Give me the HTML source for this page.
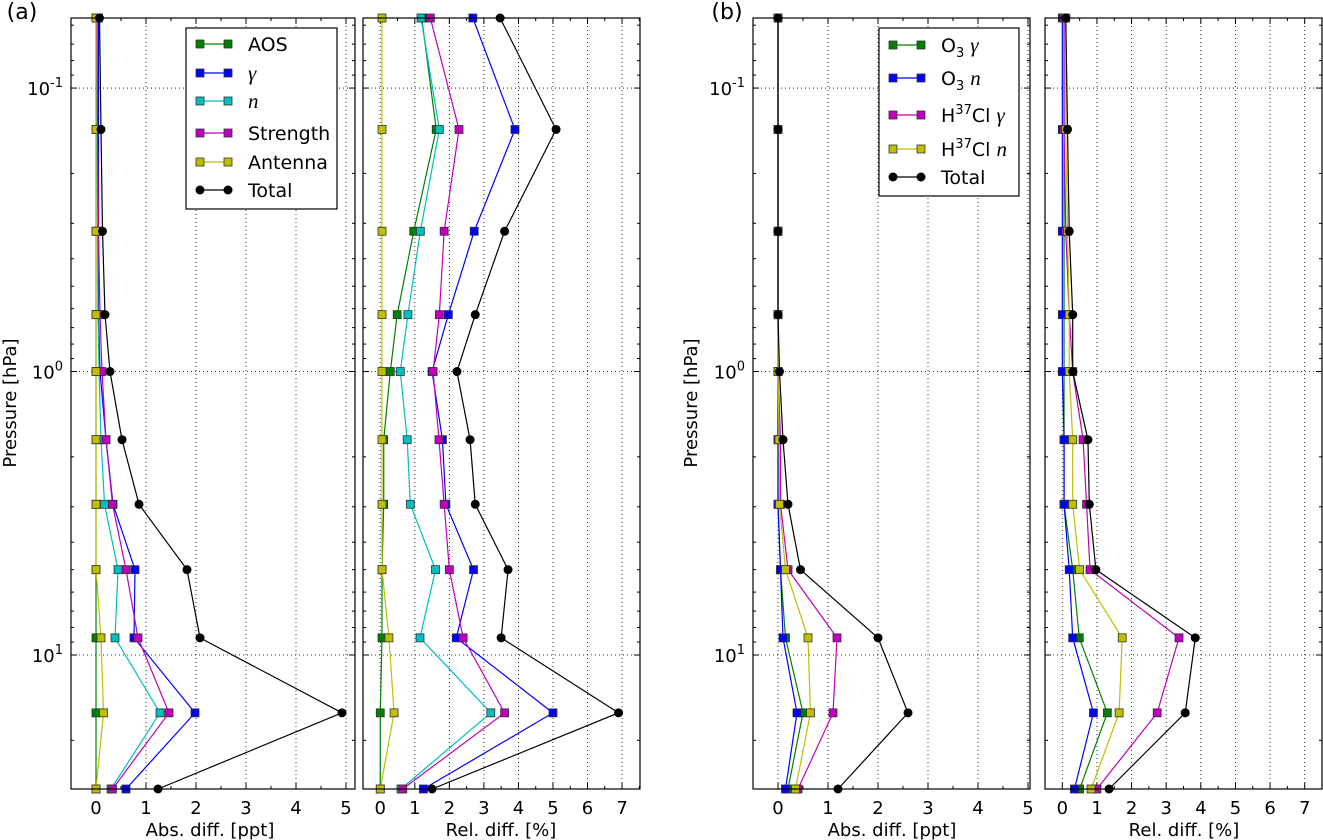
<!DOCTYPE html>
<html><head><meta charset="utf-8"><style>
body{margin:0;background:#fff;}
svg{display:block;font-family:"DejaVu Sans","Liberation Sans",sans-serif;}
</style></head><body>
<svg id="fig" width="1323" height="840" viewBox="0 0 1323 840" xmlns="http://www.w3.org/2000/svg"></svg>
<script>
const pressure=[0.0566,0.14,0.32,0.63,1.0,1.74,2.94,5.0,8.7,16,29.7];
// panel a abs
const aAbsAOS=[0,0,0,0,0,0,0,0,0,0,0];
const aAbsGamma=[0.05,0.05,0.05,0.05,0.08,0.2,0.34,0.78,0.76,1.98,0.6];
const aAbsN=[0.02,0.02,0.03,0.04,0.06,0.1,0.17,0.44,0.38,1.28,0.3];
const aAbsStr=[0.02,0.03,0.05,0.08,0.12,0.2,0.33,0.6,0.84,1.46,0.33];
const aAbsAnt=[0,0,0,0,0,0,0,0,0.1,0.15,0];
const aAbsTot=[0.07,0.1,0.13,0.18,0.28,0.52,0.86,1.82,2.08,4.92,1.24];
// panel a rel
const aRelAOS=[1.2,1.62,0.97,0.49,0.29,0.1,0.1,0.05,0.05,0,0];
const aRelGamma=[2.68,3.9,2.72,1.97,1.5,1.8,1.9,2.7,2.2,5.0,1.25];
const aRelN=[1.18,1.71,1.16,0.8,0.58,0.78,0.87,1.6,1.15,3.2,0.6];
const aRelStr=[1.45,2.28,1.85,1.71,1.53,1.7,1.85,2.0,2.4,3.6,0.65];
const aRelAnt=[0.05,0.05,0.05,0.05,0.05,0.05,0.05,0.05,0.25,0.4,0];
const aRelTot=[3.47,5.09,3.6,2.75,2.22,2.6,2.75,3.7,3.5,6.9,1.5];
// panel b abs
const bAbsO3g=[0,0,0,0,0,0,0,0.05,0.15,0.5,0.2];
const bAbsO3n=[0,0,0,0,0,0,0,0.05,0.1,0.38,0.15];
const bAbsHg=[0,0,0,0,0,0.05,0.05,0.2,1.18,1.1,0.4];
const bAbsHn=[0,0,0,0,0,0.02,0.03,0.15,0.6,0.65,0.35];
const bAbsTot=[0,0,0,0,0.03,0.1,0.2,0.45,2.0,2.6,1.2];
// panel b rel
const bRelO3g=[0.05,0.05,0.05,0.05,0.05,0.05,0.05,0.3,0.49,1.3,0.5];
const bRelO3n=[0,0,0,0,0,0.05,0.05,0.2,0.3,0.9,0.35];
const bRelHg=[0.05,0.05,0.1,0.2,0.3,0.6,0.7,0.8,3.37,2.74,1.0];
const bRelHn=[0.1,0.1,0.15,0.2,0.2,0.3,0.3,0.5,1.73,1.64,0.83];
const bRelTot=[0.1,0.15,0.2,0.3,0.3,0.74,0.78,0.97,3.84,3.55,1.35];

const NS="http://www.w3.org/2000/svg";
const fig=document.getElementById('fig');
function mk(tag,at,parent){const e=document.createElementNS(NS,tag);for(const k in at)e.setAttribute(k,at[k]);(parent||fig).appendChild(e);return e;}
const Y0=18,Y1=789;
const yLo=Math.log10(0.0566),yHi=Math.log10(29.7);
function ys(p){return Y0+(Math.log10(p)-yLo)/(yHi-yLo)*(Y1-Y0);}
const G='#008000',B='#0000ff',C='#00bfbf',M='#bf00bf',Yc='#bfbf00',K='#000';

function panel(name,x0,x1,xmin,xmax,nt,showY,series){
  const g=mk('g',{});
  
  
  const xs=v=>x0+(v-xmin)/(xmax-xmin)*(x1-x0);
  // grid
  for(let t=0;t<=nt;t++){const l=mk('line',{x1:xs(t),x2:xs(t),y1:Y0,y2:Y1,stroke:'#000','stroke-width':0.8,'stroke-dasharray':'1,3'},g);}
  [0.1,1,10].forEach(p=>mk('line',{x1:x0,x2:x1,y1:ys(p),y2:ys(p),stroke:'#000','stroke-width':0.8,'stroke-dasharray':'1,3'},g));
  // ticks
  for(let t=0;t<=nt;t++){const X=xs(t);mk('line',{x1:X,x2:X,y1:Y1,y2:Y1-6,stroke:'#000'},g);mk('line',{x1:X,x2:X,y1:Y0,y2:Y0+6,stroke:'#000'},g);
    const tx=mk('text',{x:X,y:Y1+25,'font-size':18,'text-anchor':'middle'},g);tx.textContent=t;}
  for(let t=-0.5;t<=xmax;t+=0.5){if(Math.abs(t-Math.round(t))<0.01)continue;const X=xs(t);if(X<x0+1)continue;mk('line',{x1:X,x2:X,y1:Y1,y2:Y1-3,stroke:'#000'},g);mk('line',{x1:X,x2:X,y1:Y0,y2:Y0+3,stroke:'#000'},g);}
  for(let d=-2;d<=1;d++)for(let m=1;m<10;m++){const p=m*Math.pow(10,d);if(p<0.0566||p>29.7)continue;const Yp=ys(p);const L=m==1?6:3;
    mk('line',{x1:x0,x2:x0+L,y1:Yp,y2:Yp,stroke:'#000'},g);mk('line',{x1:x1,x2:x1-L,y1:Yp,y2:Yp,stroke:'#000'},g);}
  if(showY){[[-1,0.1],[0,1],[1,10]].forEach(([e,p])=>{const t=mk('text',{x:x0-8,y:ys(p)+7,'font-size':18,'text-anchor':'end'},g);t.innerHTML='10<tspan dy="-8" font-size="13">'+e+'</tspan>';});}
  // series
  series.forEach(s=>{
    const sg=mk('g',{},g);
    
    
    const pts=s.v.map((v,i)=>xs(v)+','+ys(pressure[i])).join(' ');
    mk('polyline',{points:pts,fill:'none',stroke:s.c,'stroke-width':1.2},sg);
    s.v.forEach((v,i)=>{const X=xs(v),Yp=ys(pressure[i]);
      if(s.c===K)mk('circle',{cx:X,cy:Yp,r:4.5,fill:K},sg);
      else mk('rect',{x:X-4,y:Yp-4,width:8,height:8,fill:s.c,stroke:'#333','stroke-width':0.8},sg);});
  });
  mk('rect',{x:x0,y:Y0,width:x1-x0,height:Y1-Y0,fill:'none',stroke:'#000','stroke-width':1.2},g);
  return g;
}
panel('panel-a-abs',71,355,-0.5,5.18,5,true,[{n:'aos',v:aAbsAOS,c:G},{n:'gamma',v:aAbsGamma,c:B},{n:'n',v:aAbsN,c:C},{n:'strength',v:aAbsStr,c:M},{n:'antenna',v:aAbsAnt,c:Yc},{n:'total',v:aAbsTot,c:K}]);
panel('panel-a-rel',363,640,-0.5,7.52,7,false,[{n:'aos',v:aRelAOS,c:G},{n:'gamma',v:aRelGamma,c:B},{n:'n',v:aRelN,c:C},{n:'strength',v:aRelStr,c:M},{n:'antenna',v:aRelAnt,c:Yc},{n:'total',v:aRelTot,c:K}]);
panel('panel-b-abs',753,1030,-0.5,5.04,5,true,[{n:'o3-gamma',v:bAbsO3g,c:G},{n:'o3-n',v:bAbsO3n,c:B},{n:'hcl-gamma',v:bAbsHg,c:M},{n:'hcl-n',v:bAbsHn,c:Yc},{n:'total',v:bAbsTot,c:K}]);
panel('panel-b-rel',1045,1322,-0.5,7.5,7,false,[{n:'o3-gamma',v:bRelO3g,c:G},{n:'o3-n',v:bRelO3n,c:B},{n:'hcl-gamma',v:bRelHg,c:M},{n:'hcl-n',v:bRelHn,c:Yc},{n:'total',v:bRelTot,c:K}]);

function legend(name,bx,by,bw,bh,entries){
  const g=mk('g',{});
  
  
  mk('rect',{x:bx,y:by,width:bw,height:bh,fill:'#fff',stroke:'#000','stroke-width':1.2},g);
  entries.forEach(e=>{
    const eg=mk('g',{},g);
    
    
    const x1=bx+14,x2=bx+42;
    mk('line',{x1:x1,x2:x2,y1:e.y,y2:e.y,stroke:e.c,'stroke-width':1.2},eg);
    [x1,x2].forEach(X=>{if(e.c===K)mk('circle',{cx:X,cy:e.y,r:4.5,fill:K},eg);else mk('rect',{x:X-4,y:e.y-4,width:8,height:8,fill:e.c,stroke:'#333','stroke-width':0.8},eg);});
    const t=mk('text',{x:bx+62,y:e.y+7,'font-size':19},eg);t.innerHTML=e.t;
  });
}
const it='<tspan font-family="Liberation Serif,serif" font-style="italic" font-size="21">';
legend('legend-a',186,28,151,181,[{y:44,c:G,t:'AOS'},{y:73,c:B,t:it+'γ</tspan>'},{y:101,c:C,t:it+'n</tspan>'},{y:133,c:M,t:'Strength'},{y:162,c:Yc,t:'Antenna'},{y:190,c:K,t:'Total'}]);
legend('legend-b',879,28,140,168,[{y:45,c:G,t:'O<tspan dy="5" font-size="13">3</tspan><tspan dy="-5"> </tspan>'+it+'γ</tspan>'},{y:78,c:B,t:'O<tspan dy="5" font-size="13">3</tspan><tspan dy="-5"> </tspan>'+it+'n</tspan>'},{y:115,c:M,t:'H<tspan dy="-8" font-size="13">37</tspan><tspan dy="8">Cl </tspan>'+it+'γ</tspan>'},{y:149,c:Yc,t:'H<tspan dy="-8" font-size="13">37</tspan><tspan dy="8">Cl </tspan>'+it+'n</tspan>'},{y:177,c:K,t:'Total'}]);

function txt(name,x,y,s,extra){const t=mk('text',Object.assign({x:x,y:y,'font-size':18,'text-anchor':'middle'},extra||{}));t.textContent=s;
  
  }
txt('x-axis-title-abs-a',210,836,'Abs. diff. [ppt]');
txt('x-axis-title-rel-a',501,836,'Rel. diff. [%]');
txt('x-axis-title-abs-b',892,836,'Abs. diff. [ppt]');
txt('x-axis-title-rel-b',1184,836,'Rel. diff. [%]');
txt('y-axis-title-a',16,403,'Pressure [hPa]',{transform:'rotate(-90 16 403)'});
txt('y-axis-title-b',697,403,'Pressure [hPa]',{transform:'rotate(-90 697 403)'});
txt('panel-label-a',22,19,'(a)',{'font-size':22});
txt('panel-label-b',727,19,'(b)',{'font-size':22});
</script>
</body></html>
